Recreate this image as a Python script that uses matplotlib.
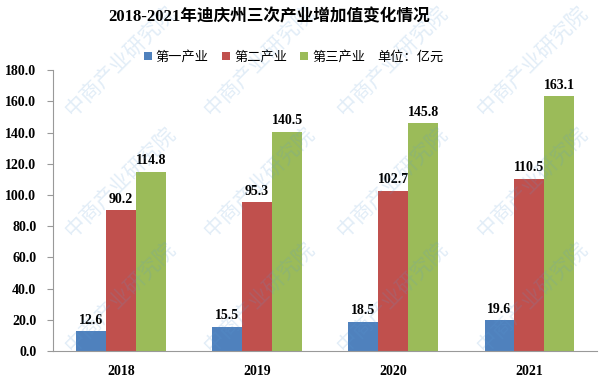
import numpy as np
import matplotlib.pyplot as plt

plt.rcParams['font.family'] = ['Liberation Serif', 'Noto Sans CJK SC']

years = ['2018', '2019', '2020', '2021']
primary = [12.6, 15.5, 18.5, 19.6]
secondary = [90.2, 95.3, 102.7, 110.5]
tertiary = [114.8, 140.5, 145.8, 163.1]
names = ['第一产业', '第二产业', '第三产业']
colors = ['#4F81BD', '#C0504D', '#9BBB59']
yticks = np.arange(0, 181, 20)

fig = plt.figure(figsize=(6.05, 3.81), dpi=100)
ax = fig.add_axes([0.0876, 0.079, 0.9, 0.737])

x = np.arange(len(years))
w = 0.22
for i, (vals, name, c) in enumerate(zip([primary, secondary, tertiary], names, colors)):
    pos = x + (i - 1) * w
    ax.bar(pos, vals, w, color=c, label=name, zorder=2)
    for p, v in zip(pos, vals):
        ax.text(p, v + 3, f'{v:.1f}', ha='center', va='bottom',
                fontsize=10, fontweight='bold', zorder=4)

ax.set_xlim(-0.5, 3.5)
ax.set_ylim(0, 180)
ax.set_yticks(yticks)
ax.set_yticklabels([f'{t:.1f}' for t in yticks], fontsize=10, fontweight='bold')
ax.set_xticks(x)
ax.set_xticklabels(years, fontsize=10, fontweight='bold')
ax.tick_params(axis='x', length=0, pad=10)
ax.tick_params(axis='y', length=4, color='#999999', pad=8)
for s in ['top', 'right']:
    ax.spines[s].set_visible(False)
for s in ['left', 'bottom']:
    ax.spines[s].set_color('#999999')
ax.patch.set_alpha(0)

# faint watermark
for wx in [0.2, 0.43, 0.65, 0.88]:
    for wy in [0.84, 0.52, 0.22]:
        fig.text(wx, wy, '中商产业研究院', rotation=45, color='#5b9bd5', alpha=0.18,
                 fontsize=15, ha='center', va='center',
                 family='Noto Sans CJK SC', zorder=3)

fig.text(0.445, 0.955, '2018-2021年迪庆州三次产业增加值变化情况', ha='center', va='center',
         fontsize=12, fontweight='bold')
leg = ax.legend(loc='center left', bbox_to_anchor=(0.155, 1.045), ncol=3, frameon=False,
                fontsize=9.5, handlelength=0.6, handleheight=0.6, handletextpad=0.3,
                columnspacing=1.0, borderpad=0)
fig.text(0.623, 0.848, '单位：亿元', fontsize=9.5, va='center')

fig.savefig('out.png', dpi=100)
